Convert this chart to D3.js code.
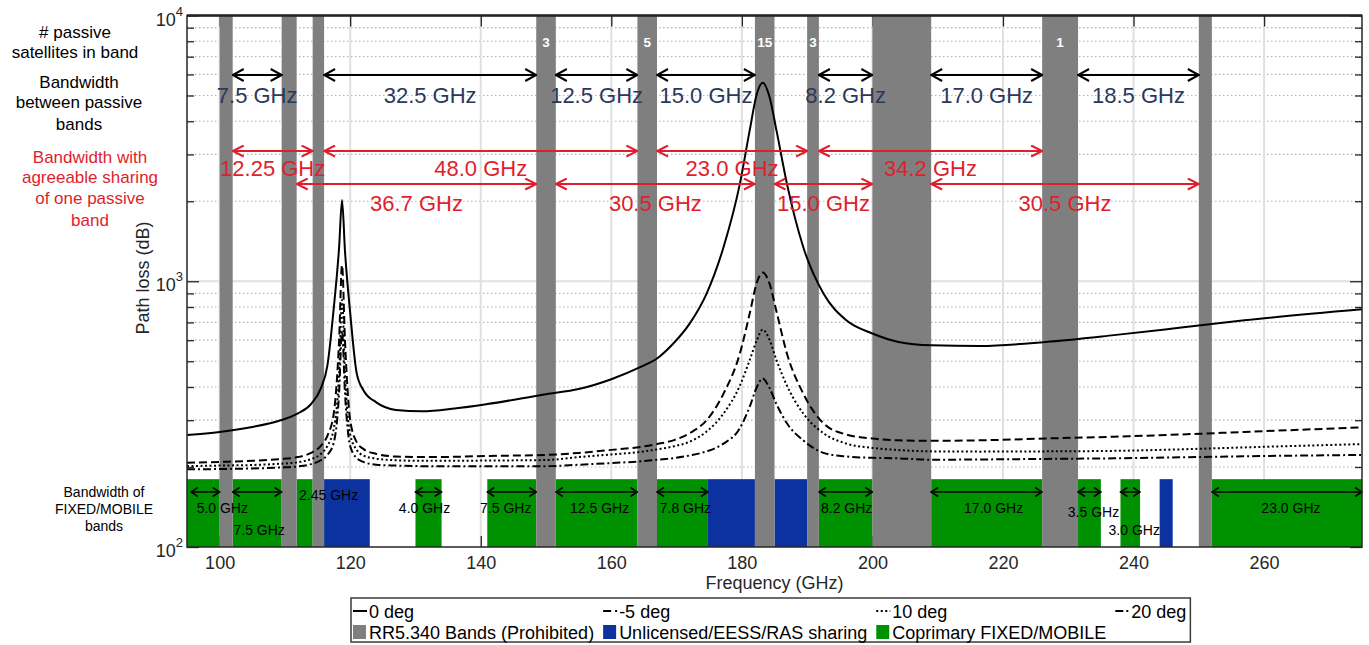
<!DOCTYPE html>
<html>
<head>
<meta charset="utf-8">
<title>Path loss vs frequency</title>
<script src="https://cdn.jsdelivr.net/npm/d3@7/dist/d3.min.js"></script>
<style>
  body { margin: 0; background: #fff; }
  svg text { font-family: "Liberation Sans", Arial, Helvetica, sans-serif; }
</style>
</head>
<body>
<svg id="chart" width="1369" height="645"></svg>
<script>
// ---- data ----
var freq = [95, 100, 105, 109, 112, 114, 115.5, 116.5, 117.5, 118.3, 118.75, 119.2, 120, 121, 122, 124, 127, 131, 136, 141,
            150, 155, 160, 164.5, 167, 169.5, 172, 174.6, 177.2, 179.7, 181.2, 182.3, 183.2, 184.2, 185.3, 186.9, 189.4, 192.5, 196, 200,
            204, 209, 216.5, 226.5, 237, 247, 257, 275];
var loss0 = [264, 271, 283, 298, 318, 345, 395, 480, 800, 1340, 2020, 1300, 760, 450, 390, 350, 328, 324, 332, 345,
             376, 393, 428, 476, 512, 583, 693, 899, 1346, 2330, 3696, 5077, 5585, 4980, 3696, 2330, 1346, 899, 713, 636,
             591, 574, 571, 591, 627, 668, 713, 785];
var lossM5 = [207.5, 209, 211, 214, 218, 226, 240, 262, 320, 600, 1150, 600, 300, 248, 234, 224, 219, 218, 218.5, 220,
              222, 226, 232, 238, 244, 252, 268, 300, 378, 535, 756, 990, 1078, 985, 770, 535, 378, 292, 265, 256,
              252, 251, 252, 256, 260, 265, 271, 282];
var loss10 = [201.5, 202.5, 203.5, 205.5, 208.5, 214, 224, 240, 280, 450, 850, 450, 265, 232, 221, 215, 212, 211, 211, 211.5,
              212.5, 218, 223, 228, 233, 239, 249, 272, 318, 405, 505, 600, 658, 605, 505, 405, 318, 268, 245, 236,
              231.6, 229, 228.5, 229, 230, 233, 237, 244];
var loss20 = [196, 196.5, 197.5, 199, 201, 205, 212, 222, 248, 380, 650, 380, 240, 216, 209, 204, 202.5, 201.5, 201.5, 201.5,
              201.5, 204, 207, 210, 213, 216, 221, 229, 245, 280, 337, 400, 431, 398, 345, 292, 252, 226, 219, 216.5,
              215.6, 213, 213.5, 214.5, 215.6, 217.5, 219.5, 222];
var seriesNames = ["0 deg", "-5 deg", "10 deg", "20 deg"];

// RR5.340 passive bands (GHz) and satellites in band
var passiveBands = [[100, 102], [109.5, 111.8], [114.25, 116], [148.5, 151.5], [164, 167], [182, 185], [190, 191.8], [200, 209], [226, 231.5], [250, 252]];
var satCount = ["", "", "", "3", "5", "15", "3", "", "1", ""];
// allocations in the bottom strip
var fixedBands = [[95, 100], [102, 109.5], [111.8, 114.25], [130, 134], [141, 148.5], [151.5, 164], [167, 174.8], [191.8, 200], [209, 226], [231.5, 235], [238, 241], [252, 275]];
var fixedLabels = ["5.0 GHz", "7.5 GHz", "2.45 GHz", "4.0 GHz", "7.5 GHz", "12.5 GHz", "7.8 GHz", "8.2 GHz", "17.0 GHz", "3.5 GHz", "3.0 GHz", "23.0 GHz"];
var sharingBands = [[116, 123], [174.8, 182], [185, 190], [244, 246]];
// bandwidth between passive bands
var gapSpans = [[102, 109.5], [116, 148.5], [151.5, 164], [167, 182], [191.8, 200], [209, 226], [231.5, 250]];
var gapLabels = ["7.5 GHz", "32.5 GHz", "12.5 GHz", "15.0 GHz", "8.2 GHz", "17.0 GHz", "18.5 GHz"];
// bandwidth with agreeable sharing of one passive band
var shareSpans1 = [[102, 114.25], [116, 164], [167, 190], [191.8, 226]];
var shareLabels1 = ["12.25 GHz", "48.0 GHz", "23.0 GHz", "34.2 GHz"];
var shareSpans2 = [[111.8, 148.5], [151.5, 182], [185, 200], [209, 250]];
var shareLabels2 = ["36.7 GHz", "30.5 GHz", "15.0 GHz", "30.5 GHz"];

var xTicks = [100, 120, 140, 160, 180, 200, 220, 240, 260];
var yMajor = [100, 1000, 10000];
var yMinor = [200, 300, 400, 500, 600, 700, 800, 900, 2000, 3000, 4000, 5000, 6000, 7000, 8000, 9000];
var legendLabels = ["0 deg", "-5 deg", "10 deg", "20 deg", "RR5.340 Bands (Prohibited)", "Unlicensed/EESS/RAS sharing", "Coprimary FIXED/MOBILE"];

// ---- layout ----
var X0 = 187, X1 = 1362, Y0 = 547, Y1 = 15.5;
var GRAY = "#7f7f7f", GREEN = "#009100", BLUE = "#0c32a0", RED = "#e01e2d", NAVY = "#2c385a", AX = "#262626";
var dashes = [null, "8,4", "2,2.5", "8,3,2,3"];

var svg = d3.select("#chart");
var x = d3.scaleLinear().domain([95, 275]).range([X0, X1]);
var y = d3.scaleLog().domain([100, 10000]).range([Y0, Y1]);

var defs = svg.append("defs");
defs.append("clipPath").attr("id", "plotclip").append("rect")
  .attr("x", X0).attr("y", Y1).attr("width", X1 - X0).attr("height", Y0 - Y1);

function addMarker(id, color, w, h, sw) {
  defs.append("marker").attr("id", id)
    .attr("viewBox", "0 0 " + w + " " + h)
    .attr("refX", w - 1).attr("refY", h / 2)
    .attr("markerWidth", w).attr("markerHeight", h)
    .attr("markerUnits", "userSpaceOnUse")
    .attr("orient", "auto-start-reverse")
    .append("path").attr("d", "M1,1 L" + (w - 1) + "," + (h / 2) + " L1," + (h - 1))
    .attr("fill", "none").attr("stroke", color).attr("stroke-width", sw);
}
addMarker("ahBlack", "#000", 13, 14, 2);
addMarker("ahRed", RED, 13, 13, 2);
addMarker("ahSmall", "#000", 9, 11, 1.5);

// grid
var grid = svg.append("g");
grid.selectAll("line.minor").data(yMinor).join("line")
  .attr("x1", X0).attr("x2", X1).attr("y1", d => y(d)).attr("y2", d => y(d))
  .attr("stroke", "#b5b5b5").attr("stroke-width", 1.2).attr("stroke-dasharray", "1.5,2.5");
grid.append("line").attr("x1", X0).attr("x2", X1).attr("y1", y(1000)).attr("y2", y(1000))
  .attr("stroke", "#e0e0e0").attr("stroke-width", 2);
grid.selectAll("line.vx").data(xTicks).join("line")
  .attr("x1", d => x(d)).attr("x2", d => x(d)).attr("y1", Y1).attr("y2", Y0)
  .attr("stroke", "#e0e0e0").attr("stroke-width", 2);

// ticks (below bands)
function styleAxis(g) {
  g.attr("font-family", null).attr("font-size", null);
  g.select(".domain").remove();
  g.selectAll("line").attr("stroke", AX).attr("stroke-width", 1.3);
  g.selectAll("text").attr("font-size", 18).attr("fill", AX);
}
svg.append("g").attr("transform", "translate(0," + Y0 + ")")
  .call(d3.axisBottom(x).tickValues(xTicks).tickSize(-11).tickPadding(9).tickFormat(d3.format("d"))).call(styleAxis);
svg.append("g").attr("transform", "translate(0," + Y1 + ")")
  .call(d3.axisTop(x).tickValues(xTicks).tickSize(-11).tickFormat("")).call(styleAxis);
svg.append("g").attr("transform", "translate(" + X0 + ",0)")
  .call(d3.axisLeft(y).tickValues(yMajor).tickSize(-12).tickFormat("")).call(styleAxis);
svg.append("g").attr("transform", "translate(" + X0 + ",0)")
  .call(d3.axisLeft(y).tickValues(yMinor).tickSize(-7).tickFormat("")).call(styleAxis);
svg.append("g").attr("transform", "translate(" + X1 + ",0)")
  .call(d3.axisRight(y).tickValues(yMajor).tickSize(-12).tickFormat("")).call(styleAxis);
svg.append("g").attr("transform", "translate(" + X1 + ",0)")
  .call(d3.axisRight(y).tickValues(yMinor).tickSize(-7).tickFormat("")).call(styleAxis);

svg.append("g").selectAll("text").data(yMajor).join("text")
  .attr("x", 183).attr("y", d => y(d) + 10).attr("text-anchor", "end")
  .attr("font-size", 18).attr("fill", AX)
  .each(function (d) {
    var t = d3.select(this);
    t.append("tspan").text("10");
    t.append("tspan").attr("dy", -10).attr("font-size", 13).text(Math.round(Math.log10(d)));
  });

// bands
var bands = svg.append("g").attr("clip-path", "url(#plotclip)");
var stripTop = 180;
bands.selectAll("rect.fixed").data(fixedBands).join("rect")
  .attr("x", d => x(d[0])).attr("width", d => x(d[1]) - x(d[0]))
  .attr("y", y(stripTop)).attr("height", y(100) - y(stripTop)).attr("fill", GREEN);
bands.selectAll("rect.share").data(sharingBands).join("rect")
  .attr("x", d => x(d[0])).attr("width", d => x(d[1]) - x(d[0]))
  .attr("y", y(stripTop)).attr("height", y(100) - y(stripTop)).attr("fill", BLUE);
bands.selectAll("rect.passive").data(passiveBands).join("rect")
  .attr("x", d => x(d[0])).attr("width", d => x(d[1]) - x(d[0]))
  .attr("y", Y1).attr("height", Y0 - Y1).attr("fill", GRAY);

svg.append("g").selectAll("text").data(passiveBands).join("text")
  .attr("x", d => x((d[0] + d[1]) / 2)).attr("y", 47).attr("text-anchor", "middle")
  .attr("font-size", 13.5).attr("font-weight", "bold").attr("fill", "#fff")
  .text((d, i) => satCount[i]);

// curves
var line = d3.line().x((d, i) => x(freq[i])).y(d => y(d)).curve(d3.curveMonotoneX);
svg.append("g").attr("clip-path", "url(#plotclip)")
  .selectAll("path").data([loss0, lossM5, loss10, loss20]).join("path")
  .attr("d", line).attr("fill", "none").attr("stroke", "#000").attr("stroke-width", 2)
  .attr("stroke-dasharray", (d, i) => dashes[i]);

// annotation arrows
var ann = svg.append("g");
function arrows(spans, yy, color, marker, width) {
  ann.append("g").selectAll("line").data(spans).join("line")
    .attr("x1", d => x(d[0])).attr("x2", d => x(d[1])).attr("y1", yy).attr("y2", yy)
    .attr("stroke", color).attr("stroke-width", width)
    .attr("marker-start", "url(#" + marker + ")").attr("marker-end", "url(#" + marker + ")");
}
function labels(spans, texts, yy, color, size, dx) {
  ann.append("g").selectAll("text").data(spans).join("text")
    .attr("x", (d, i) => x((d[0] + d[1]) / 2) + (dx ? dx[i] : 0)).attr("y", (d, i) => typeof yy === "number" ? yy : yy[i])
    .attr("text-anchor", "middle").attr("font-size", size).attr("fill", color)
    .text((d, i) => texts[i]);
}
arrows(gapSpans, 75, "#000", "ahBlack", 2);
labels(gapSpans, gapLabels, 103, NAVY, 22);
arrows(shareSpans1, 151, RED, "ahRed", 2);
labels(shareSpans1, shareLabels1, 176, RED, 22);
arrows(shareSpans2, 184, RED, "ahRed", 2);
labels(shareSpans2, shareLabels2, 211, RED, 22);

// bottom strip arrows (no arrow on the 2.45 GHz band)
arrows(fixedBands.filter((d, i) => i !== 2).map((d, i) => i === 0 ? [95.6, d[1]] : d), 492, "#000", "ahSmall", 1.5);
var fixedRowY = [513, 535, 500, 513, 513, 513, 513, 513, 513, 517, 535, 513];
var fixedDx = [19, 2, 24, -4, -6, 3, 3, 1, 7, 4, 4, 4];
labels(fixedBands, fixedLabels, fixedRowY, "#000", 14, fixedDx);

// left side captions
var cap = svg.append("g").attr("text-anchor", "middle").attr("font-size", 17);
[["# passive", 38], ["satellites in band", 58]].forEach(function (r) {
  cap.append("text").attr("x", 75).attr("y", r[1]).attr("fill", "#000").text(r[0]);
});
[["Bandwidth", 88], ["between passive", 108], ["bands", 130]].forEach(function (r) {
  cap.append("text").attr("x", 79).attr("y", r[1]).attr("fill", "#000").text(r[0]);
});
[["Bandwidth with", 163], ["agreeable sharing", 183], ["of one passive", 204], ["band", 226]].forEach(function (r) {
  cap.append("text").attr("x", 90).attr("y", r[1]).attr("fill", RED).text(r[0]);
});
[["Bandwidth of", 497], ["FIXED/MOBILE", 514], ["bands", 531]].forEach(function (r) {
  cap.append("text").attr("x", 104).attr("y", r[1]).attr("font-size", 14).attr("fill", "#000").text(r[0]);
});

// axis titles
svg.append("text").attr("x", (X0 + X1) / 2).attr("y", 589).attr("text-anchor", "middle")
  .attr("font-size", 18).attr("fill", AX).text("Frequency (GHz)");
svg.append("text").attr("transform", "translate(149,278) rotate(-90)").attr("text-anchor", "middle")
  .attr("font-size", 18).attr("fill", AX).text("Path loss (dB)");

// plot box on top
svg.append("rect").attr("x", X0).attr("y", Y1).attr("width", X1 - X0).attr("height", Y0 - Y1)
  .attr("fill", "none").attr("stroke", AX).attr("stroke-width", 1.5);
svg.append("line").attr("x1", X0).attr("x2", X1).attr("y1", Y1).attr("y2", Y1)
  .attr("stroke", AX).attr("stroke-width", 2.5);

// legend: 4 columns, row-major
var leg = svg.append("g");
var legX = 353, legTop = 598, rowY = [611, 632], sampleW = 14, nCol = 4;
var items = legendLabels.map(function (t, i) { return { label: t, i: i, row: Math.floor(i / nCol), col: i % nCol }; });
var texts = leg.selectAll("text").data(items).join("text")
  .attr("font-size", 18).attr("fill", "#000").attr("y", d => rowY[d.row] + 6.5).text(d => d.label);
var colW = [0, 0, 0, 0];
texts.each(function (d) { colW[d.col] = Math.max(colW[d.col], this.getComputedTextLength()); });
var colX = [legX];
for (var c = 1; c < nCol; c++) colX[c] = colX[c - 1] + sampleW + 3 + colW[c - 1] + 8;
texts.attr("x", d => colX[d.col] + sampleW + 2);
var bandFill = [GRAY, BLUE, GREEN];
items.forEach(function (d) {
  if (d.row === 0) {
    leg.append("line").attr("x1", colX[d.col]).attr("x2", colX[d.col] + sampleW)
      .attr("y1", rowY[0]).attr("y2", rowY[0]).attr("stroke", "#000").attr("stroke-width", 2)
      .attr("stroke-dasharray", dashes[d.i]);
  } else {
    leg.append("rect").attr("x", colX[d.col]).attr("y", rowY[1] - 7).attr("width", sampleW - 1).attr("height", 14)
      .attr("fill", bandFill[d.col]);
  }
});
var legRight = colX[nCol - 1] + sampleW + 2 + colW[nCol - 1] + 4;
leg.insert("rect", ":first-child").attr("x", legX - 2).attr("y", legTop).attr("width", legRight - legX + 2).attr("height", 44)
  .attr("fill", "#fff").attr("stroke", "#3a3a3a").attr("stroke-width", 1.5);
</script>
</body>
</html>
